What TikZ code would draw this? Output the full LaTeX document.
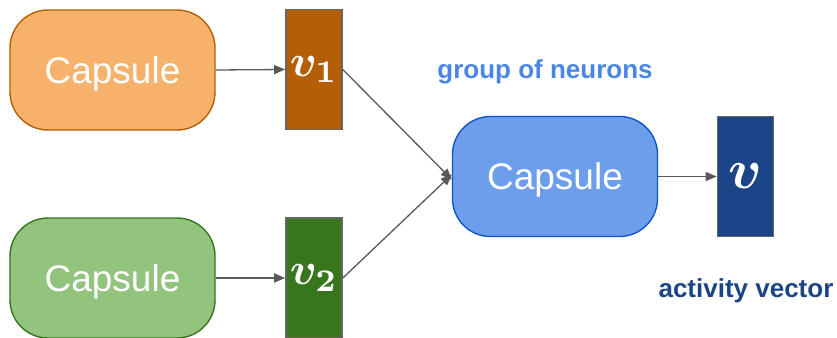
\documentclass[tikz,border=0pt]{standalone}
\usepackage{amsmath,bm}
\usepackage[no-math]{fontspec}
\setmainfont{Liberation Sans}
\usetikzlibrary{arrows.meta}

\definecolor{orangefill}{HTML}{F6B26B}
\definecolor{orangeedge}{HTML}{B45F06}
\definecolor{greenfill}{HTML}{93C47D}
\definecolor{greenedge}{HTML}{38761D}
\definecolor{bluefill}{HTML}{6D9EEB}
\definecolor{blueedge}{HTML}{1155CC}
\definecolor{navy}{HTML}{1C4587}
\definecolor{labelblue}{HTML}{4A86E8}
\definecolor{boxedge}{HTML}{666666}
\definecolor{arrowgray}{HTML}{595959}

\tikzset{
  capsule/.style={draw, line width=1.4pt, rounded corners=38pt,
    minimum width=205pt, minimum height=120pt, inner sep=0pt,
    text depth=0pt, text=white, font=\fontsize{37}{40}\selectfont},
  vecbox/.style={draw=boxedge, line width=1.6pt, minimum width=56pt,
    minimum height=120pt, inner sep=0pt, text=white},
  link/.style={draw=arrowgray, line width=1.3pt,
    -{Triangle[length=11pt,width=9pt]}},
  tag/.style={font=\bfseries\fontsize{26}{30}\selectfont, anchor=base, inner sep=0pt}
}

\begin{document}
\begin{tikzpicture}[x=1pt,y=-1pt]
  \useasboundingbox (0,0) rectangle (837,337);

  % input capsules
  \node[capsule, fill=orangefill, draw=orangeedge] (capA) at (112.5,70) {Capsule};
  \node[capsule, fill=greenfill, draw=greenedge] (capB) at (112.5,278) {Capsule};

  % their output vectors
  \node[vecbox, fill=orangeedge] (vA) at (314,69.5) {\scalebox{4.5}{$\bm{v}_{\mathbf{1}}$}};
  \node[vecbox, fill=greenedge] (vB) at (314,278) {\scalebox{4.5}{$\bm{v}_{\mathbf{2}}$}};

  % higher-level capsule and its activity vector
  \node[capsule, fill=bluefill, draw=blueedge] (capC) at (555,176.5) {Capsule};
  \node[vecbox, fill=navy] (vC) at (745.5,176.5) {\scalebox{5.6}{$\bm{v}$}};

  % labels
  \node[tag, text=labelblue] (lblGroup) at (545,78) {group of neurons};
  \node[tag, text=navy] (lblAct) at (746,297) {activity vector};

  % connectors
  \draw[link] (capA.east) -- (vA.west);
  \draw[link] (capB.east) -- (vB.west);
  \draw[link] (vA.east) -- ([yshift=-3pt]capC.west);
  \draw[link] (vB.east) -- ([yshift=2pt]capC.west);
  \draw[link] (capC.east) -- (vC.west);
\end{tikzpicture}
\end{document}
